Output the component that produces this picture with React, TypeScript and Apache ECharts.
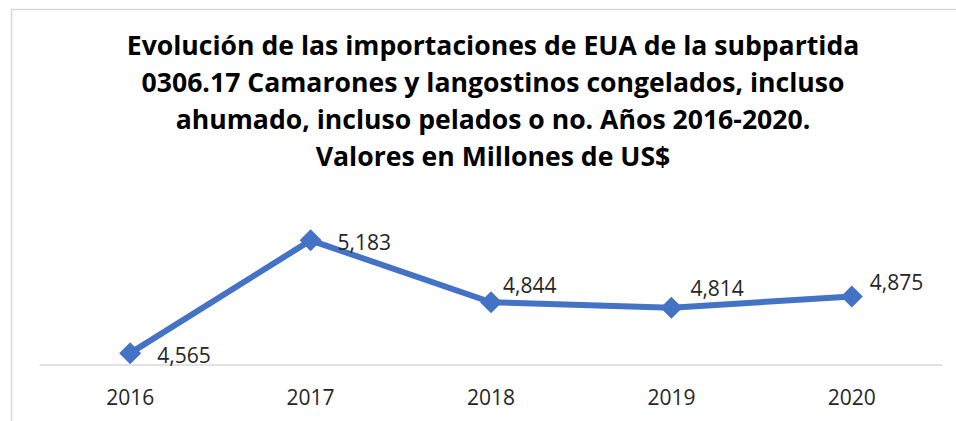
import React, { useEffect, useRef } from "react";
import * as echarts from "echarts";

const titleLines = [
  "Evolución de las importaciones de EUA de la subpartida",
  "0306.17 Camarones y langostinos congelados, incluso",
  "ahumado, incluso pelados o no. Años 2016-2020.",
  "Valores en Millones de US$",
];
const years = ["2016", "2017", "2018", "2019", "2020"];
const values = [4565, 5183, 4844, 4814, 4875];
const labelOffsets: [number, number][] = [
  [27, 2],
  [27, 2],
  [12, -17],
  [19, -20],
  [18, -15],
];

const FONT = "Open Sans";

export default function App() {
  const ref = useRef<HTMLDivElement>(null);
  useEffect(() => {
    document.body.style.margin = "0";
    const chart = echarts.init(ref.current!, null, { renderer: "svg" });
    chart.setOption({
      animation: false,
      graphic: [
        {
          type: "rect",
          shape: { x: 11.5, y: 9.5, width: 960, height: 420 },
          style: { fill: "none", stroke: "#d9d9d9", lineWidth: 1.5 },
          silent: true,
        },
      ],
      title: {
        text: titleLines.join("\n"),
        left: 488,
        textAlign: "center",
        top: 21,
        textStyle: {
          fontFamily: FONT,
          fontWeight: "bold",
          fontSize: 26.6,
          lineHeight: 37,
          color: "#000000",
        },
      },
      grid: { left: 40, right: 14, top: 219, bottom: 56 },
      xAxis: {
        type: "category",
        data: years,
        boundaryGap: true,
        axisLine: { lineStyle: { color: "#d9d9d9", width: 1.5 } },
        axisTick: { show: false },
        axisLabel: {
          fontFamily: FONT,
          fontSize: 21,
          color: "#262626",
          margin: 21,
        },
      },
      yAxis: {
        type: "value",
        min: 4500,
        max: 5300,
        show: false,
        splitLine: { show: false },
      },
      series: [
        {
          type: "line",
          data: values.map((v, i) => ({
            value: v,
            label: {
              show: true,
              position: "inside",
              align: "left",
              verticalAlign: "middle",
              offset: labelOffsets[i],
            },
          })),
          symbol: "diamond",
          symbolSize: 22,
          lineStyle: { color: "#4472C4", width: 6 },
          itemStyle: { color: "#4472C4" },
          label: {
            formatter: (p: any) => p.value.toLocaleString("en-US"),
            fontFamily: FONT,
            fontSize: 21,
            color: "#262626",
          },
        },
      ],
    });
    return () => chart.dispose();
  }, []);
  return <div ref={ref} style={{ width: 956, height: 421 }} />;
}
